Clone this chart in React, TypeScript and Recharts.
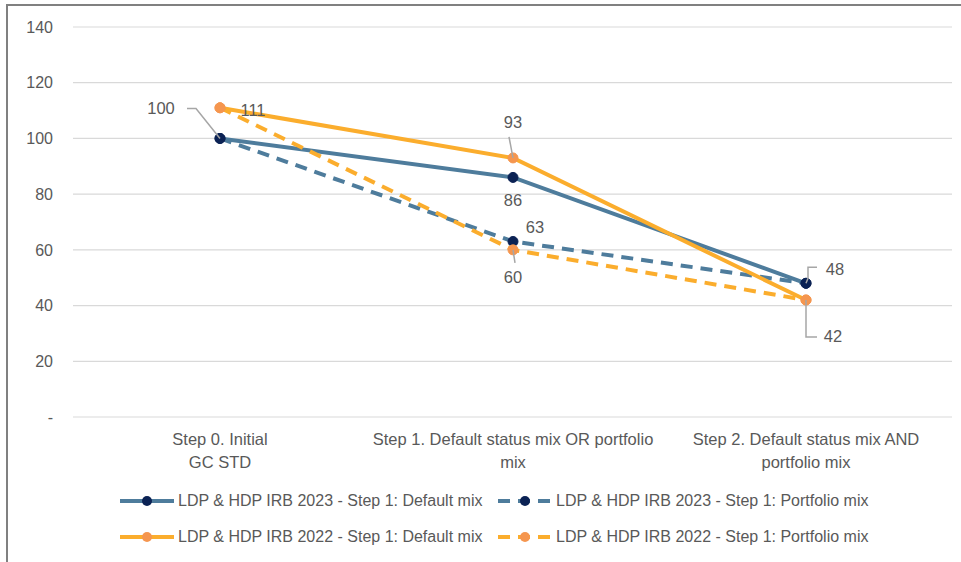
import React from 'react';
import { LineChart, Line, XAxis, YAxis, CartesianGrid, Legend, LabelList } from 'recharts';

const categories = ['Step 0. Initial GC STD', 'Step 1. Default status mix OR portfolio mix', 'Step 2. Default status mix AND portfolio mix'];
const tickLines = [
    ['Step 0. Initial', 'GC STD'],
    ['Step 1. Default status mix OR portfolio', 'mix'],
    ['Step 2. Default status mix AND', 'portfolio mix'],
];
const irb2023Default = [100, 86, 48];
const irb2023Portfolio = [100, 63, 48];
const irb2022Default = [111, 93, 42];
const irb2022Portfolio = [111, 60, 42];
const yTicks = [0, 20, 40, 60, 80, 100, 120, 140];

const FONT = '"Liberation Sans", Arial, sans-serif';
const TEXT = '#595959';
const BLUE = '#4E7C9C';
const NAVY = '#0B2254';
const ORANGE = '#FBAD2D';
const ORANGE_DOT = '#F5964F';

const data = categories.map((name, i) => ({
    name,
    d23: irb2023Default[i],
    p23: irb2023Portfolio[i],
    d22: irb2022Default[i],
    p22: irb2022Portfolio[i],
}));

const SERIES = [
    { key: 'd23', name: 'LDP & HDP IRB 2023 - Step 1: Default mix', color: BLUE, dot: NAVY, dashed: false },
    { key: 'p23', name: 'LDP & HDP IRB 2023 - Step 1: Portfolio mix', color: BLUE, dot: NAVY, dashed: true },
    { key: 'd22', name: 'LDP & HDP IRB 2022 - Step 1: Default mix', color: ORANGE, dot: ORANGE_DOT, dashed: false },
    { key: 'p22', name: 'LDP & HDP IRB 2022 - Step 1: Portfolio mix', color: ORANGE, dot: ORANGE_DOT, dashed: true },
];

// label placement per series / point: offset of text + optional leader path relative to the point
const LABEL_POS: Record<string, (Array<{ dx: number; dy: number; lead?: string } | null>)> = {
    d23: [{ dx: -59, dy: -30, lead: 'M0,0 L-24,-30 L-33,-30' }, { dx: 0, dy: 23 }, { dx: 29, dy: -14, lead: 'M0,0 L2,-5 L2,-16 L11,-16' }],
    p23: [null, { dx: 22, dy: -15 }, null],
    d22: [{ dx: 33, dy: 2 }, { dx: 0, dy: -36, lead: 'M0,0 L-4,-21' }, { dx: 27, dy: 36, lead: 'M0,0 L0,37 L11,37' }],
    p22: [null, { dx: 0, dy: 27, lead: 'M0,0 L2,13' }, null],
};

const makeLabel = (key: string) => (props: any) => {
    const { x, y, value, index } = props;
    const pos = LABEL_POS[key][index];
    if (!pos) return null;
    return (
        <g>
            {pos.lead && (
                <path d={pos.lead} transform={`translate(${x},${y})`} stroke="#A6A6A6" strokeWidth={1.5} fill="none" />
            )}
            <text x={x + pos.dx} y={y + pos.dy} textAnchor="middle" dominantBaseline="central"
                  fontSize={16.5} fontFamily={FONT} fill={TEXT}>
                {value}
            </text>
        </g>
    );
};

const XTick = (props: any) => {
    const { x, y, index } = props;
    const lines = tickLines[index] || [];
    return (
        <text x={x} y={y} textAnchor="middle" fontSize={16.5} fontFamily={FONT} fill={TEXT}>
            {lines.map((l, i) => (
                <tspan key={i} x={x} dy={i === 0 ? '0.71em' : 23}>{l}</tspan>
            ))}
        </text>
    );
};

const LegendContent = () => (
    <div style={{ height: 72, fontFamily: FONT, fontSize: 16, color: TEXT }}>
        {[0, 1].map((row) => (
            <div key={row}>
                {[SERIES[row * 2], SERIES[row * 2 + 1]].map((s, ci) => (
                    <div key={s.key} style={{ position: 'absolute', left: ci === 0 ? 119 : 497, top: row * 36, height: 36, display: 'flex', alignItems: 'center' }}>
                        <svg width={56} height={14} style={{ marginRight: 3 }}>
                            <line x1={1} y1={7} x2={55} y2={7} stroke={s.color} strokeWidth={4}
                                  strokeDasharray={s.dashed ? '12 8' : undefined} />
                            <circle cx={28} cy={7} r={5} fill={s.dot} />
                        </svg>
                        <span style={{ whiteSpace: 'nowrap' }}>{s.name}</span>
                    </div>
                ))}
            </div>
        ))}
    </div>
);

export default function App() {
    return (
        <div style={{ position: 'absolute', left: 0, top: 0, width: 961, height: 562, background: '#fff', overflow: 'hidden' }}>
            <div style={{ position: 'absolute', left: 6, top: 4, right: 0, bottom: 0, borderLeft: '2px solid #808080', borderTop: '2px solid #808080' }} />
            <LineChart width={961} height={562} data={data} margin={{ top: 27, right: 9, bottom: 13, left: 0 }}
                       style={{ position: 'absolute', left: 0, top: 0 }}>
                <CartesianGrid vertical={false} stroke="#D9D9D9" strokeWidth={1.2} />
                <XAxis dataKey="name" axisLine={false} tickLine={false} height={60} tickSize={0} tickMargin={16}
                       tick={<XTick />} interval={0} padding={{ left: 147, right: 146 }} />
                <YAxis domain={[0, 140]} ticks={yTicks} axisLine={false} tickLine={false} width={73} tickSize={0}
                       tickMargin={20} tickFormatter={(v) => (v === 0 ? '-' : String(v))}
                       tick={{ fontSize: 16, fontFamily: FONT, fill: TEXT }} />
                <Legend verticalAlign="bottom" content={<LegendContent />}
                        wrapperStyle={{ left: 0, width: 961, height: 72, top: 483, bottom: 'auto' }} />
                {SERIES.map((s) => (
                    <Line key={s.key} type="linear" dataKey={s.key} name={s.name} stroke={s.color} strokeWidth={4}
                          strokeDasharray={s.dashed ? '12 8' : undefined}
                          dot={{ r: 5, fill: s.dot, stroke: s.dot, strokeWidth: 1, strokeDasharray: '' }}
                          activeDot={false} isAnimationActive={false}>
                        <LabelList dataKey={s.key} content={makeLabel(s.key)} />
                    </Line>
                ))}
            </LineChart>
        </div>
    );
}
